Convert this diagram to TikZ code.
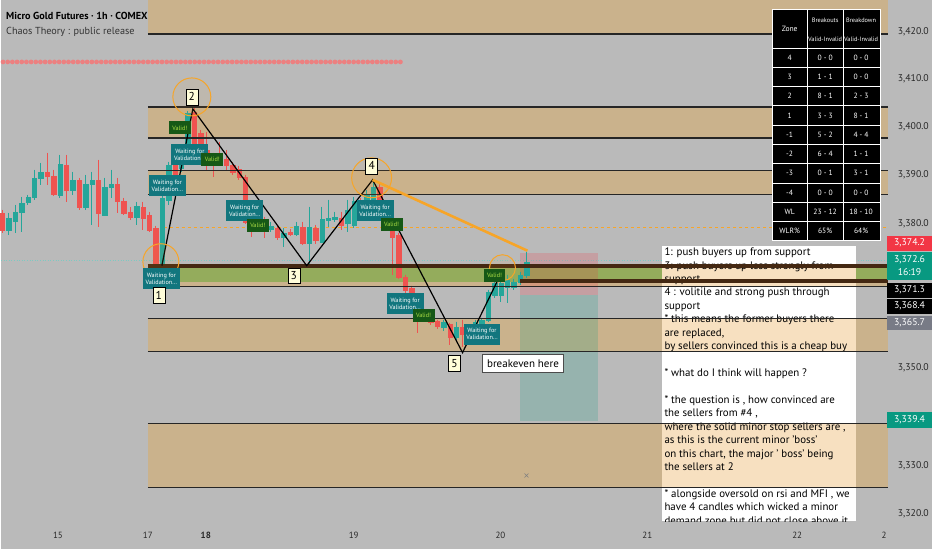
\documentclass[tikz,border=0pt]{standalone}
\usepackage{fontspec}
\setmainfont{PT Sans}
\usetikzlibrary{positioning}

\definecolor{chartbg}{RGB}{186,186,186}
\definecolor{zonetan}{RGB}{202,178,140}
\definecolor{zonegreen}{RGB}{148,172,92}
\definecolor{zonebrown}{RGB}{68,40,18}
\definecolor{boxtan}{RGB}{240,195,130}
\definecolor{upc}{RGB}{38,166,154}
\definecolor{dnc}{RGB}{239,83,80}
\definecolor{waitc}{RGB}{18,118,126}
\definecolor{validc}{RGB}{22,88,22}
\definecolor{validtxt}{RGB}{175,225,70}
\definecolor{ringc}{RGB}{247,165,40}
\definecolor{dotred}{RGB}{236,128,128}
\definecolor{tagred}{RGB}{242,54,69}
\definecolor{taggreen}{RGB}{8,153,129}
\definecolor{taggray}{RGB}{120,123,134}
\definecolor{axistxt}{RGB}{40,40,40}

\begin{document}
\begin{tikzpicture}[x=1pt,y=-1pt,
    zoneline/.style={draw=black!85,line width=1.3pt},
    brownline/.style={draw=zonebrown,line width=4pt},
    up/.style={draw=upc,fill=upc,line width=1pt},
    dn/.style={draw=dnc,fill=dnc,line width=1pt},
    leg/.style={draw=black,line width=1.2pt},
    ring/.style={draw=ringc,line width=1pt,fill=ringc,fill opacity=0.08},
    waitbox/.style={rectangle,fill=waitc,text=white,align=center,inner sep=0pt,
        minimum width=37pt,minimum height=21pt,font=\fontsize{6.2}{7.2}\selectfont},
    validbox/.style={rectangle,fill=validc,text=validtxt,inner sep=0pt,
        minimum width=22pt,minimum height=13pt,font=\fontsize{6.2}{7}\selectfont},
    numbox/.style={rectangle,draw=black,fill=white!85!yellow,inner sep=1.5pt,
        minimum width=12pt,minimum height=16pt,font=\fontsize{11.5}{12}\selectfont},
    cell/.style={text=white,inner sep=0pt,font=\fontsize{7.6}{8}\selectfont},
    hcell/.style={text=white,inner sep=0pt,font=\fontsize{6.3}{7}\selectfont},
    tag/.style={rectangle,text=white,inner sep=0pt,minimum width=45pt,
        font=\fontsize{9.8}{11}\selectfont},
    pricelbl/.style={anchor=east,text=axistxt,inner sep=0pt,font=\fontsize{9.8}{11}\selectfont},
    timelbl/.style={text=axistxt,inner sep=0pt,font=\fontsize{9}{10}\selectfont}]

% background and zones
\fill[chartbg] (0,0) rectangle (932,550);
\fill[zonetan] (147,0) rectangle (888,34);
\fill[zonetan] (147,107) rectangle (888,138);
\fill[zonetan] (147,171) rectangle (888,195);
\fill[zonegreen] (147,268) rectangle (888,282);
\fill[zonetan] (147,282) rectangle (888,287);
\fill[zonetan] (147,319) rectangle (888,352);
\fill[zonetan] (147,424) rectangle (888,488);

% dots row
\foreach \k in {0,...,85}
    \fill[dotred] ({2+4.68*\k},62) circle (2.4pt);

\draw[upc!60!white,line width=0.6pt,dotted] (0,261) -- (888,261);
\draw[ringc,line width=0.7pt,dash pattern=on 3pt off 3pt] (163,228) -- (888,228);

% position
\fill[tagred,fill opacity=0.2] (520,253) rectangle (598,295);
\fill[taggreen,fill opacity=0.2] (520,295) rectangle (598,421);
\draw[gray,line width=0.6pt] (524,474) -- (528,478) (524,478) -- (528,474);

% note box
\fill[white] (662,246) rectangle (856,522);
\fill[boxtan,fill opacity=0.5] (662,265) rectangle (856,287);
\fill[boxtan,fill opacity=0.5] (662,319) rectangle (856,352);
\fill[boxtan,fill opacity=0.5] (662,424) rectangle (856,488);

% candles
\foreach \i/\t/\b/\h/\l/\c in {
    0/213/230/210/233/dn, 1/218/230/213/235/up, 2/212/221/205/233/up,
    3/203/212/197/232/up, 4/197/202/195/205/up, 5/178/197/170/200/up,
    6/172/178/163/185/up, 7/172/176/153/185/dn, 8/176/194/170/196/dn,
    9/164/195/155/198/up, 10/165/190/155/202/dn, 11/180/190/172/195/up,
    12/180/207/178/210/dn, 13/184/207/175/210/up, 14/180/184/172/225/up,
    15/180/213/160/227/dn, 16/187/215/178/215/up, 17/184/187/170/198/up,
    18/184/201/178/213/dn, 19/201/213/198/215/dn, 20/212/217/207/220/dn,
    21/206/217/202/225/up, 22/207/218/202/230/dn, 23/215/230/212/232/dn,
    24/228/267/226/268/dn, 25/198/267/196/268/up, 26/165/200/162/205/up,
    27/165/183/160/190/dn, 28/150/168/146/172/up, 29/113/160/111/165/up,
    30/112/150/108/155/dn, 31/133/157/130/165/dn, 32/150/154/132/170/dn,
    33/155/160/153/177/dn, 34/158/162/142/165/dn, 35/159/165/150/170/dn,
    36/165/172/162/175/dn, 37/169/177/166/180/dn, 38/177/222/175/224/dn,
    39/215/228/212/237/dn, 40/223/227/220/230/up, 41/222/228/217/238/dn,
    42/226/229/222/232/up, 43/228/237/226/240/dn, 44/233/237/228/247/up,
    45/232/234/229/236/dn, 46/226/234/222/236/up, 47/227/243/222/245/dn,
    48/227/243/207/268/up, 49/228/240/225/244/dn, 50/219/242/207/243/up,
    51/218/220/200/227/up, 52/217/219/212/222/up, 53/218/225/212/230/dn,
    54/210/223/200/232/up, 55/201/225/197/228/up, 56/202/214/198/218/dn,
    57/195/205/190/208/up, 58/187/200/180/207/up, 59/187/213/183/215/dn,
    60/203/228/200/230/dn, 61/228/237/226/275/dn, 62/235/277/233/279/dn,
    63/277/290/275/293/dn, 64/288/307/286/309/dn, 65/305/318/303/333/dn,
    66/313/317/310/320/up, 67/313/323/311/325/dn, 68/322/327/320/329/dn,
    69/323/328/320/331/up, 70/325/338/323/345/dn, 71/328/338/322/340/up,
    72/328/335/320/347/dn, 73/333/342/325/345/dn, 74/323/340/320/342/up,
    75/320/325/318/328/up, 76/292/320/290/322/up, 77/283/295/281/298/up,
    78/283/295/280/302/up, 79/280/287/275/303/up, 80/282/287/279/290/up,
    81/275/282/272/285/up, 82/262/275/252/278/up}
{
    \pgfmathsetmacro\xc{1.3+6.4*\i}
    \draw[\c] (\xc,\h) -- (\xc,\l);
    \filldraw[\c,line width=0.3pt] (\xc-2.2,\t) rectangle (\xc+2.2,\b);
}

% zone lines
\foreach \y in {34,107,138,171,195,287,319,352,424,488}
    \draw[zoneline] (147,\y) -- (888,\y);
\draw[brownline] (147,266) -- (888,266);
\draw[brownline] (520,281) -- (888,281);

% swing legs
\coordinate (p1) at (161,266);
\coordinate (p2) at (192,109);
\coordinate (p3) at (306,266);
\coordinate (p4) at (372,180);
\coordinate (p5) at (462,353);
\coordinate (p6) at (497,281);
\coordinate (q1) at (527,251);
\draw[leg] (p1) -- (p2) -- (p3) -- (p4) -- (p5) -- (p6);
\draw[ringc,line width=2.6pt] (p4) -- (q1);

\draw[ring] (160,262) circle (18pt);
\draw[ring] (191,97) circle (19pt);
\draw[ring] (371,178) circle (20pt);
\draw[ring] (502,268) circle (13pt);

% signal labels
\node[waitbox] (wait1) at (160.5,279) {Waiting for\\Validation...};
\node[waitbox] (wait2) at (166.5,186) {Waiting for\\Validation...};
\node[waitbox] (wait3) at (189,155) {Waiting for\\Validation...};
\node[waitbox] (wait4) at (244,211) {Waiting for\\Validation...};
\node[waitbox] (wait5) at (374.5,211) {Waiting for\\Validation...};
\node[waitbox] (wait6) at (404.5,304) {Waiting for\\Validation...};
\node[waitbox] (wait7) at (481.5,334.5) {Waiting for\\Validation...};
\node[validbox] (valid1) at (179,128) {Valid!};
\node[validbox] (valid2) at (211.5,160) {Valid!};
\node[validbox] (valid3) at (257,226) {Valid!};
\node[validbox] (valid4) at (391,225) {Valid!};
\node[validbox] (valid5) at (423,316) {Valid!};
\node[validbox] (valid6) at (494,275.5) {Valid!};

% swing numbers
\node[numbox] (n1) at (158,296) {1};
\node[numbox] (n2) at (191,97) {2};
\node[numbox] (n3) at (293,276) {3};
\node[numbox] (n4) at (371,166) {4};
\node[numbox] (n5) at (454,364) {5};
\node[rectangle,draw=black!70,fill=white,inner sep=0pt,minimum width=81pt,minimum height=18pt,
    font=\fontsize{11}{12}\selectfont] (breakeven) at (522.5,364) {breakeven here};

% note text
\begin{scope}
\clip (662,246) rectangle (856,522);
\node[anchor=north west,inner sep=0pt,align=left,font=\fontsize{10.9}{13.45}\selectfont] (note) at (664,248)
{1: push buyers up from support\\
3: push buyers up less strongly from\\
support\\
4 : volitile and strong push through\\
support\\
* this means the former buyers there\\
are replaced,\\
by sellers convinced this is a cheap buy\\
~\\
* what do I think will happen ?\\
~\\
* the question is , how convinced are\\
the sellers from \#4 ,\\
where the solid minor stop sellers are ,\\
as this is the current minor 'boss'\\
on this chart, the major ' boss' being\\
the sellers at 2\\
~\\
* alongside oversold on rsi and MFI , we\\
have 4 candles which wicked a minor\\
demand zone but did not close above it};
\end{scope}
\foreach \y in {287,319,352,424,488}
    \draw[zoneline] (662,\y) -- (856,\y);
\draw[brownline] (662,266) -- (856,266);
\draw[brownline] (662,281) -- (856,281);

% stats table
\fill[black] (772,9) rectangle (880,241);
\draw[white,line width=0.6pt] (772,9) rectangle (880,241);
\draw[white,line width=0.6pt] (807,9) -- (807,241) (843,9) -- (843,241);
\foreach \k in {0,...,9}
    \draw[white,line width=0.6pt] (772,{48+19.3*\k}) -- (880,{48+19.3*\k});
\node[cell] (hzone) at (789.5,28.5) {Zone};
\node[hcell] (hbo) at (825,20) {Breakouts};
\node[hcell] (hbov) at (825,39) {Valid-Invalid};
\node[hcell] (hbd) at (861,20) {Breakdown};
\node[hcell] (hbdv) at (861,39) {Valid-Invalid};
\foreach \z/\bo/\bd [count=\r] in {4/0 - 0/0 - 0, 3/1 - 1/0 - 0, 2/8 - 1/2 - 3,
    1/3 - 3/8 - 1, -1/5 - 2/4 - 4, -2/6 - 4/1 - 1, -3/0 - 1/3 - 1,
    -4/0 - 0/0 - 0, WL/23 - 12/18 - 10, WLR\%/65\%/64\%}
{
    \node[cell] (z\r) at (789.5,{48+19.3*(\r-0.5)}) {\z};
    \node[cell] (bo\r) at (825,{48+19.3*(\r-0.5)}) {\bo};
    \node[cell] (bd\r) at (861,{48+19.3*(\r-0.5)}) {\bd};
}

% price axis
\node[pricelbl] (pr1) at (929,32) {3,420.0};
\node[pricelbl] (pr2) at (929,79) {3,410.0};
\node[pricelbl] (pr3) at (929,127) {3,400.0};
\node[pricelbl] (pr4) at (929,175) {3,390.0};
\node[pricelbl] (pr5) at (929,224) {3,380.0};
\node[pricelbl] (pr6) at (929,368) {3,350.0};
\node[pricelbl] (pr7) at (929,466) {3,330.0};
\node[pricelbl] (pr8) at (929,514) {3,320.0};
\node[tag,fill=tagred,minimum height=15pt] (tg1) at (909.5,243.5) {3,374.2};
\node[tag,fill=taggreen,minimum height=28pt,align=center,
    font=\fontsize{9.8}{12.5}\selectfont] (tg2) at (909.5,266) {3,372.6\\16:19};
\node[tag,fill=black,minimum height=15pt] (tg3) at (909.5,290.5) {3,371.3};
\node[tag,fill=black,minimum height=15pt] (tg4) at (909.5,306.5) {3,368.4};
\node[tag,fill=taggray,minimum height=14pt] (tg5) at (909.5,323) {3,365.7};
\node[tag,fill=taggreen,minimum height=16pt] (tg6) at (909.5,420) {3,339.4};

% time axis
\node[timelbl] (d15) at (57,536) {15};
\node[timelbl] (d17) at (147,536) {17};
\node[timelbl,font=\bfseries\fontsize{9}{10}\selectfont] (d18) at (205,536) {18};
\node[timelbl] (d19) at (353,536) {19};
\node[timelbl] (d20) at (500,536) {20};
\node[timelbl] (d21) at (647,536) {21};
\node[timelbl] (d22) at (797,536) {22};
\node[timelbl] (d23) at (884,536) {2};

% title
\node[anchor=west,inner sep=0pt,font=\bfseries\fontsize{10.2}{12}\selectfont] (title) at (5,16)
    {Micro Gold Futures · 1h · COMEX};
\node[anchor=west,inner sep=0pt,text=black!80,font=\fontsize{10.2}{12}\selectfont] (subtitle) at (5,32)
    {Chaos Theory : public release};
\end{tikzpicture}
\end{document}
